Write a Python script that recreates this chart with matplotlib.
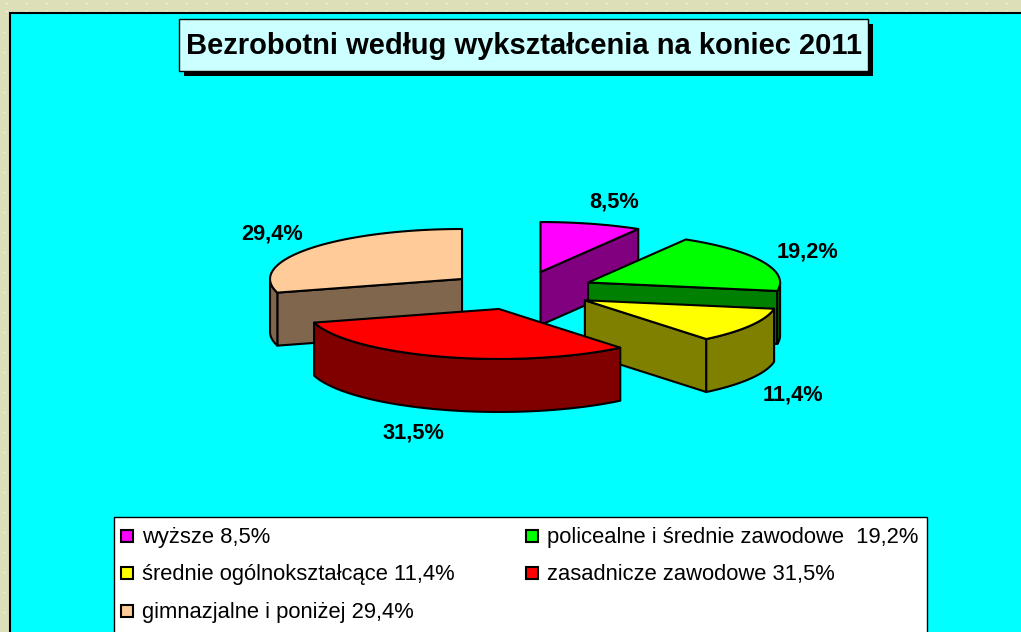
import numpy as np
import matplotlib
matplotlib.use('Agg')
import matplotlib.pyplot as plt
from matplotlib.patches import Polygon, Rectangle

plt.rcParams['font.family'] = ['Liberation Sans', 'DejaVu Sans']

title = 'Bezrobotni według wykształcenia na koniec 2011'
names = ['wyższe', 'policealne i średnie zawodowe ', 'średnie ogólnokształcące',
         'zasadnicze zawodowe', 'gimnazjalne i poniżej']
shares = [8.5, 19.2, 11.4, 31.5, 29.4]
top_colors = ['#FF00FF', '#00FF00', '#FFFF00', '#FF0000', '#FFCC99']
side_colors = ['#800080', '#008000', '#808000', '#800000', '#80664D']
value_labels = ['8,5%', '19,2%', '11,4%', '31,5%', '29,4%']

# pie geometry in image pixels
CX, CY = 521, 290.6
RX, RY = 192, 50
DEPTH = 53
EXPLODE = 0.385
EDGE = 1.5

label_pos = [(614, 202), (807, 252), (793, 395), (413, 433), (272, 234)]
legend_pos = [(127, 536), (532, 536), (127, 573), (532, 573), (127, 611)]

fig = plt.figure(figsize=(10.21, 6.32), dpi=100)
ax = fig.add_axes([0, 0, 1, 1])
ax.set_xlim(0, 1021)
ax.set_ylim(632, 0)
ax.axis('off')
fig.patch.set_facecolor('#DCDFB8')

# dotted wallpaper around the plot area
dx, dy = np.meshgrid(np.arange(6, 1021, 20), np.arange(3, 14, 8))
ax.scatter(dx.ravel(), dy.ravel(), s=2, c='#F2F3E0', linewidths=0, zorder=1)
dx, dy = np.meshgrid([4], np.arange(32, 632, 20))
ax.scatter(dx.ravel(), dy.ravel(), s=2, c='#F2F3E0', linewidths=0, zorder=1)

ax.add_patch(Rectangle((9.5, 12.5), 1030, 640, fc='#00FFFF', ec='black', lw=1.5, zorder=2))


def rim(a0, a1, ox, oy):
    t = np.radians(np.linspace(a0, a1, max(int(a1 - a0), 2)))
    return np.column_stack([ox + RX * np.sin(t), oy - RY * np.cos(t)])


def face(pts, color, z):
    ax.add_patch(Polygon(pts, closed=True, fc=color, ec='black', lw=EDGE, joinstyle='round', zorder=z))


bounds = np.cumsum([0] + shares) / sum(shares) * 360
# back slices first, the red one sits in front of everything
order = [4, 0, 1, 2, 3]
for n, i in enumerate(order):
    a0, a1 = bounds[i], bounds[i + 1]
    mid = np.radians((a0 + a1) / 2)
    ox = CX + EXPLODE * RX * np.sin(mid)
    oy = CY - EXPLODE * RY * np.cos(mid)
    z = 10 + n
    apex = np.array([[ox, oy]])
    down = np.array([[0, DEPTH]])
    # radial walls that face the viewer
    if np.sin(np.radians(a1)) > 1e-6:
        end = rim(a1, a1, ox, oy)[:1]
        face(np.vstack([apex, end, end + down, apex + down]), side_colors[i], z)
    if np.sin(np.radians(a0)) < -1e-6:
        start = rim(a0, a0, ox, oy)[:1]
        face(np.vstack([apex, start, start + down, apex + down]), side_colors[i], z)
    # outer wall on the front half of the ellipse
    lo, hi = max(a0, 90), min(a1, 270)
    if hi > lo:
        arc = rim(lo, hi, ox, oy)
        face(np.vstack([arc, arc[::-1] + down]), side_colors[i], z)
    face(np.vstack([apex, rim(a0, a1, ox, oy)]), top_colors[i], z)

for txt, (x, y) in zip(value_labels, label_pos):
    ax.text(x, y, txt, ha='center', va='center', fontsize=15.7, fontweight='bold', color='black', zorder=30)

# title box with hard shadow
ax.add_patch(Rectangle((184, 24), 689, 52, fc='black', ec='none', zorder=20))
ax.add_patch(Rectangle((178.5, 18.5), 689, 52, fc='#CCFFFF', ec='black', lw=1, zorder=21))
ax.text(524, 46.5, title, ha='center', va='center', fontsize=21, fontweight='bold', zorder=22)

# legend
ax.add_patch(Rectangle((113.5, 516.5), 813, 130, fc='white', ec='black', lw=1, zorder=20))
for name, val, col, (x, y) in zip(names, value_labels, top_colors, legend_pos):
    ax.add_patch(Rectangle((x - 6, y - 6), 12, 12, fc=col, ec='black', lw=1.5, zorder=21))
    ax.text(x + 15, y + 1.5, name + ' ' + val, ha='left', va='center', fontsize=15.8, zorder=21)

fig.savefig('out.png', dpi=100, facecolor=fig.get_facecolor())
